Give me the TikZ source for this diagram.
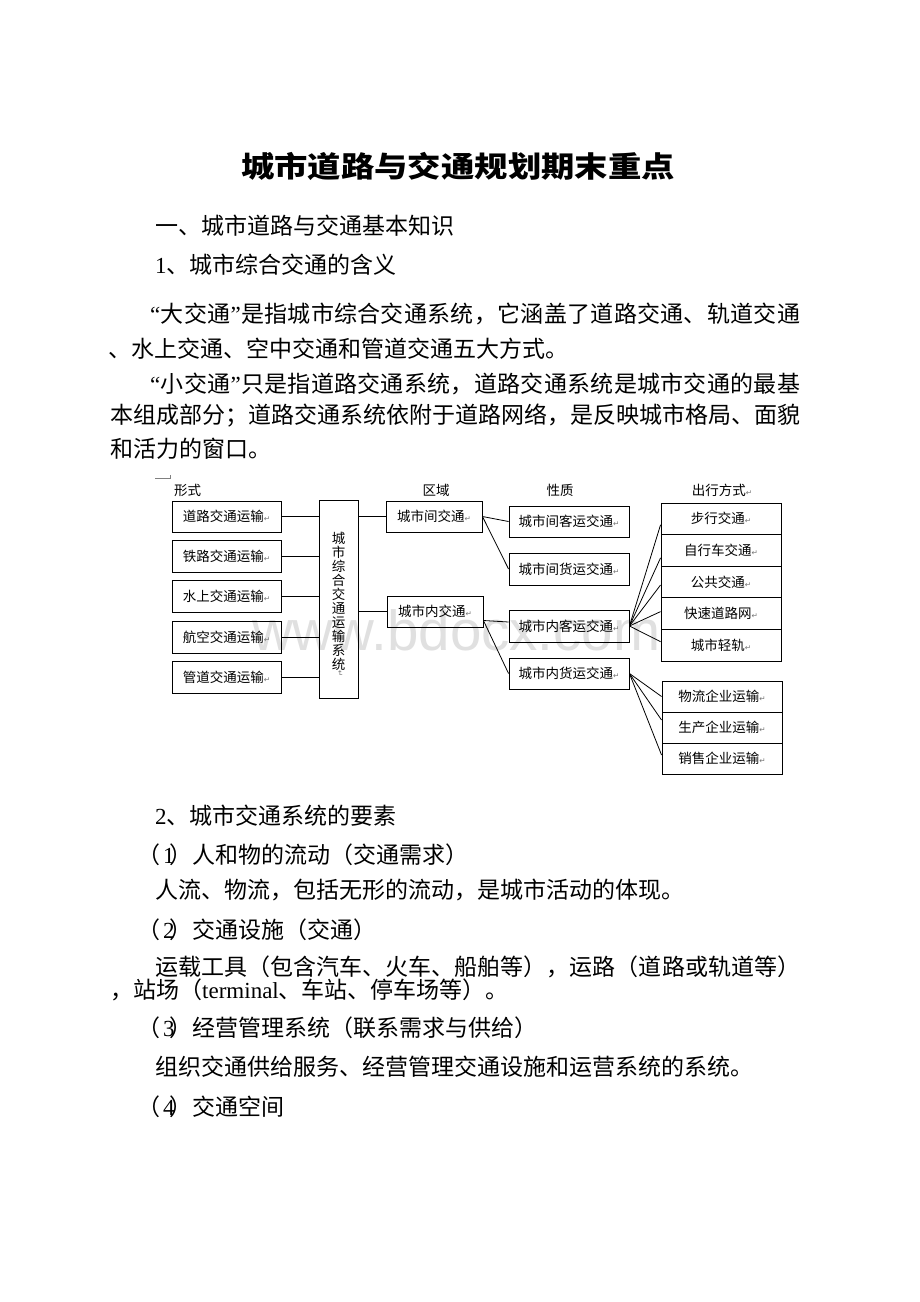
\documentclass[tikz,border=0pt]{standalone}
\usepackage{fontspec}
\usepackage{graphicx}
\setmainfont{Noto Sans CJK SC}
\newfontfamily\lat{Liberation Serif}
\newfontfamily\wmfont{Liberation Sans}
\newfontfamily\dejavu{DejaVu Sans}
\usetikzlibrary{calc}
\makeatletter
\newcommand\jline[2]{\makebox[#1][s]{\@tfor\jtok:=#2\do{\jtok\hfil}\unskip}}
\makeatother
\newcommand\retmark{{\dejavu\fontsize{7.5}{7.5}\selectfont\color{black!55}↵}}
\newcommand\numpar[1]{（\kern3pt{\lat #1}\kern-5.5pt）}
\begin{document}
\begin{tikzpicture}[x=1pt,y=-1pt,
  body/.style={anchor=west, inner sep=0pt, font=\fontsize{23}{23}\selectfont},
  lbl/.style={inner sep=0pt, font=\fontsize{13.5}{14}\selectfont},
  box/.style={draw, line width=0.9pt, inner sep=0pt, font=\fontsize{13.5}{14}\selectfont},
  conn/.style={line width=0.8pt}]
\useasboundingbox (0,0) rectangle (920,1302);
\fill[white] (0,0) rectangle (920,1302);

% title and text
\node[inner sep=0pt] (title) at (458,166) {\scalebox{1.15}[1]{\fontsize{29}{29}\selectfont\bfseries 城市道路与交通规划期末重点}};
\node[body] (t1) at (155,226) {一、城市道路与交通基本知识};
\node[body] (t2) at (155,265) {{\lat 1}、城市综合交通的含义};
\node[body] (t3) at (150,314) {\jline{650pt}{{{\lat “}}大交通{{\lat ”}}是指城市综合交通系统，它涵盖了道路交通、轨道交通}};
\node[body] (t4) at (108,349) {、水上交通、空中交通和管道交通五大方式。};
\node[body] (t5) at (150,384) {\jline{650pt}{{{\lat “}}小交通{{\lat ”}}只是指道路交通系统，道路交通系统是城市交通的最基}};
\node[body] (t6) at (110,416) {\jline{690pt}{本组成部分；道路交通系统依附于道路网络，是反映城市格局、面貌}};
\node[body] (t7) at (110,449) {和活力的窗口。};

\node[body] (u1) at (155,816) {{\lat 2}、城市交通系统的要素};
\node[body] (u2) at (137,855) {\numpar{1}人和物的流动（交通需求）};
\node[body] (u3) at (155,890) {人流、物流，包括无形的流动，是城市活动的体现。};
\node[body] (u4) at (137,930) {\numpar{2}交通设施（交通）};
\node[body] (u5) at (155,967) {\jline{645pt}{运载工具（包含汽车、火车、船舶等），运路（道路或轨道等）}};
\node[body] (u6) at (110,990) {，站场（{\lat terminal}、车站、停车场等）。};
\node[body] (u7) at (137,1028) {\numpar{3}经营管理系统（联系需求与供给）};
\node[body] (u8) at (155,1067) {组织交通供给服务、经营管理交通设施和运营系统的系统。};
\node[body] (u9) at (137,1107) {\numpar{4}交通空间};

% watermark
\node[anchor=base west, inner sep=0pt, text=black!12, font=\wmfont\fontsize{56.5}{56.5}\selectfont] (wm) at (252,650) {www.bdocx.com};

% anchor mark
\draw[black!50, line width=0.6pt] (155,478) -- (170,478) -- (170,475);

% column labels
\node[lbl] (h1) at (187.5,490) {形式};
\node[lbl] (h2) at (436,490) {区域};
\node[lbl] (h3) at (560,490) {性质};
\node[lbl] (h4) at (722,490) {出行方式\retmark};

% left boxes
\node[box, minimum width=109, minimum height=31] (L1) at (226.5,516.5) {道路交通运输\retmark};
\node[box, minimum width=109, minimum height=32] (L2) at (226.5,556) {铁路交通运输\retmark};
\node[box, minimum width=109, minimum height=32] (L3) at (226.5,596) {水上交通运输\retmark};
\node[box, minimum width=109, minimum height=32] (L4) at (226.5,637) {航空交通运输\retmark};
\node[box, minimum width=109, minimum height=32] (L5) at (226.5,677) {管道交通运输\retmark};

% central box
\node[box, minimum width=39, minimum height=198] (C) at (338.5,599) {};
\node[lbl, align=center] (Ct) at (338.5,601) {城\\市\\综\\合\\交\\通\\运\\输\\系\\统};
\node[inner sep=0pt, rotate=-90] (Cm) at (340,674) {\retmark};

% region boxes
\node[box, minimum width=96, minimum height=31] (R1) at (434,516.5) {城市间交通\retmark};
\node[box, minimum width=96, minimum height=31] (R2) at (435,611.5) {城市内交通\retmark};

% nature boxes
\node[box, minimum width=120, minimum height=31] (Q1) at (569,521.5) {城市间客运交通\retmark};
\node[box, minimum width=120, minimum height=32] (Q2) at (569,569) {城市间货运交通\retmark};
\node[box, minimum width=120, minimum height=32] (Q3) at (569,626) {城市内客运交通\retmark};
\node[box, minimum width=120, minimum height=31] (Q4) at (569,673.5) {城市内货运交通\retmark};

% travel mode stack
\node[box, minimum width=120, minimum height=31.6] (S1) at (721,518.8) {步行交通\retmark};
\node[box, minimum width=120, minimum height=31.6] (S2) at (721,550.4) {自行车交通\retmark};
\node[box, minimum width=120, minimum height=31.6] (S3) at (721,582) {公共交通\retmark};
\node[box, minimum width=120, minimum height=31.6] (S4) at (721,613.6) {快速道路网\retmark};
\node[box, minimum width=120, minimum height=31.6] (S5) at (721,645.2) {城市轻轨\retmark};

% freight stack
\node[box, minimum width=120, minimum height=31] (P1) at (722,696.5) {物流企业运输\retmark};
\node[box, minimum width=120, minimum height=31] (P2) at (722,727.5) {生产企业运输\retmark};
\node[box, minimum width=120, minimum height=31] (P3) at (722,758.5) {销售企业运输\retmark};

% connectors
\foreach \i in {1,...,5} \draw[conn] (L\i.east) -- (L\i.east -| C.west);
\draw[conn] (R1.west -| C.east) -- (R1.west);
\draw[conn] (R2.west -| C.east) -- (R2.west);
\draw[conn] (R1.east) -- (Q1.west);
\draw[conn] (R1.east) -- (Q2.west);
\coordinate (r2o) at ([yshift=-9pt]R2.east);
\draw[conn] (r2o) -- ([yshift=4pt]Q3.west);
\draw[conn] (r2o) -- (Q4.west);
\draw[conn] (Q3.east) -- ([yshift=-6pt]S1.west);
\draw[conn] (Q3.east) -- ([yshift=-7.5pt]S2.west);
\draw[conn] (Q3.east) -- ([yshift=-3pt]S3.west);
\draw[conn] (Q3.east) -- ([yshift=2pt]S4.west);
\draw[conn] (Q3.east) -- ([yshift=3.5pt]S5.west);
\draw[conn] (Q4.east) -- (P1.west);
\draw[conn] (Q4.east) -- ([yshift=7.5pt]P2.west);
\draw[conn] (Q4.east) -- ([yshift=3.5pt]P3.west);
\end{tikzpicture}
\end{document}
